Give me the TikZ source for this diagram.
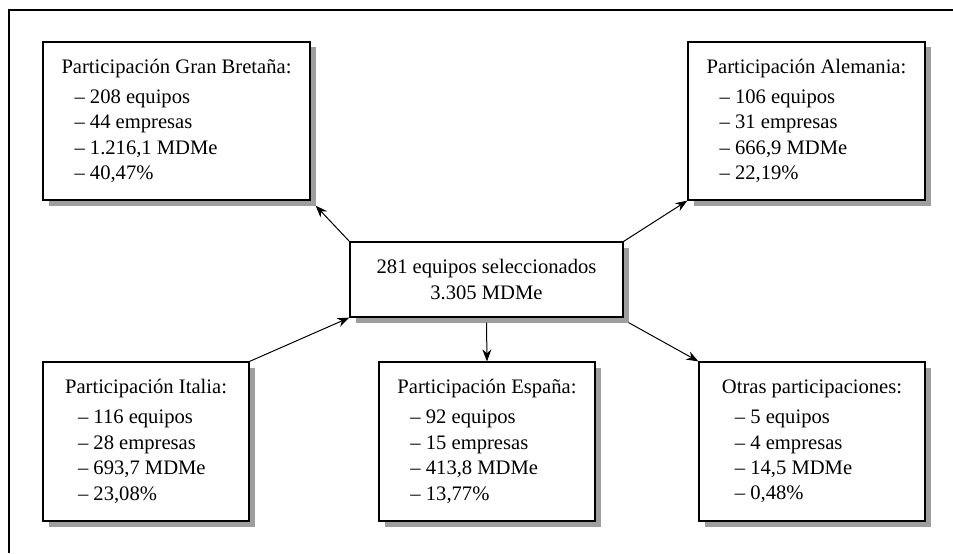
\documentclass[tikz,border=0pt]{standalone}
\usepackage{fontspec}
\setmainfont{Liberation Serif}
\usetikzlibrary{arrows.meta}

\definecolor{sombra}{gray}{0.62}
\newcommand{\guion}{\hspace*{6.5pt}– }

\begin{document}
\begin{tikzpicture}[
  x=0.5pt, y=-0.5pt,
  box/.style={draw, line width=0.6pt, fill=white, align=left, font=\fontsize{10.3}{12.7}\selectfont},
  total/.style={box, align=center},
  shadowbox/.style={fill=sombra, draw=none},
  arrow/.style={-{Stealth[length=6pt, width=4.5pt]}, line width=0.5pt},
]
  \useasboundingbox (0,0) rectangle (953,553);
  \draw[line width=1pt] (9,553) -- (9,10) -- (953,10);

  % sombras
  \fill[shadowbox] (356,248) rectangle (629,323);
  \fill[shadowbox] (49,47) rectangle (316,206);
  \fill[shadowbox] (694,47) rectangle (931,206);
  \fill[shadowbox] (49,368) rectangle (255,527);
  \fill[shadowbox] (385,368) rectangle (601,527);
  \fill[shadowbox] (705,368) rectangle (931,527);

  \node[total, minimum width=136.5pt, minimum height=37.5pt] (central) at (486.5,279.5)
    {281 equipos seleccionados\\3.305 MDMe};

  \node[box, minimum width=133.5pt, minimum height=79pt] (granbretana) at (176.5,121)
    {Participación Gran Bretaña:\\[2.3pt] \guion 208 equipos\\ \guion 44 empresas\\ \guion 1.216,1 MDMe\\ \guion 40,47\%};
  \node[box, minimum width=118.5pt, minimum height=79pt] (alemania) at (806.5,121)
    {Participación Alemania:\\[2.3pt] \guion 106 equipos\\ \guion 31 empresas\\ \guion 666,9 MDMe\\ \guion 22,19\%};
  \node[box, minimum width=103pt, minimum height=79.5pt] (italia) at (146,441.5)
    {Participación Italia:\\[2.3pt] \guion 116 equipos\\ \guion 28 empresas\\ \guion 693,7 MDMe\\ \guion 23,08\%};
  \node[box, minimum width=108pt, minimum height=79.5pt] (espana) at (487,441.5)
    {Participación España:\\[2.3pt] \guion 92 equipos\\ \guion 15 empresas\\ \guion 413,8 MDMe\\ \guion 13,77\%};
  \node[box, minimum width=113pt, minimum height=79.5pt] (otras) at (812,441.5)
    {Otras participaciones:\\[2.3pt] \guion 5 equipos\\ \guion 4 empresas\\ \guion 14,5 MDMe\\ \guion 0,48\%};

  \draw[arrow] (central.north west) -- ([shift={(5,5)}]granbretana.south east);
  \draw[arrow] (central.north east) -- (alemania.south west);
  \draw[arrow] (italia.north east) -- (central.south west);
  \draw[arrow] ([yshift=-2.5pt]central.south) -- (espana.north);
  \draw[arrow] ([shift={(5,5)}]central.south east) -- (otras.north west);
\end{tikzpicture}
\end{document}
